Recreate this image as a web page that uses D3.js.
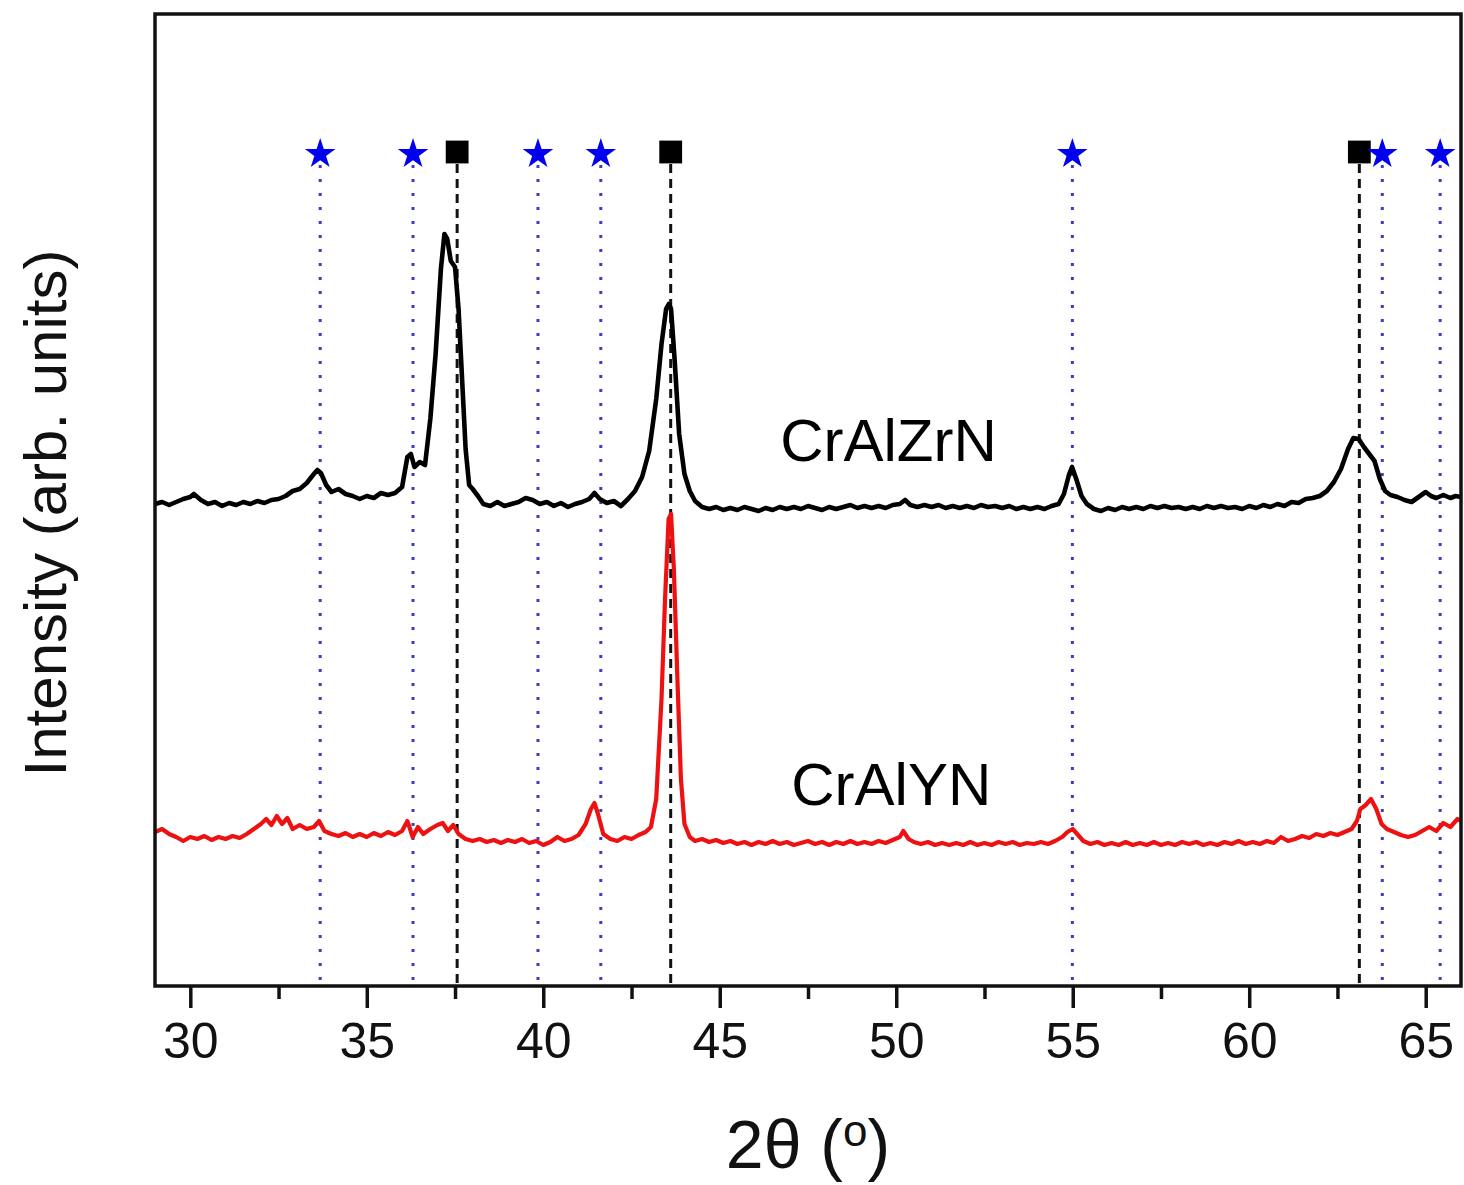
<!DOCTYPE html>
<html>
<head>
<meta charset="utf-8">
<script src="https://d3js.org/d3.v7.min.js"></script>
<style>
  body { margin: 0; background: #fff; }
  svg { display: block; font-family: "Liberation Sans", Arial, sans-serif; }
</style>
</head>
<body>
<svg id="chart" width="1464" height="1185"></svg>
<script>
// 2theta (deg), intensity (arb. units)
var crAlZrN = [
  [29.0,482],[29.2,484],[29.4,481],[29.6,484],[29.8,487],[30.0,489],[30.1,492],[30.3,486],[30.5,482],[30.7,484],
  [30.9,480],[31.1,483],[31.3,481],[31.5,484],[31.7,482],[31.9,485],[32.1,483],[32.3,486],[32.5,487],[32.7,490],
  [32.9,495],[33.1,497],[33.3,503],[33.5,512],[33.6,516],[33.7,513],[33.85,501],[34.0,494],[34.2,497],[34.4,492],
  [34.6,490],[34.8,487],[35.0,490],[35.2,488],[35.4,493],[35.6,491],[35.8,493],[36.0,499],[36.15,529],[36.25,532],
  [36.35,519],[36.5,524],[36.65,521],[36.8,567],[36.95,632],[37.1,717],[37.2,752],[37.28,747],[37.38,725],[37.5,719],
  [37.6,677],[37.7,607],[37.8,537],[37.9,501],[38.0,497],[38.15,490],[38.3,482],[38.5,480],[38.7,484],[38.9,480],
  [39.1,482],[39.3,484],[39.5,488],[39.7,486],[39.9,482],[40.1,484],[40.3,480],[40.5,483],[40.7,479],[40.9,482],
  [41.1,484],[41.3,487],[41.45,493],[41.6,487],[41.8,483],[42.0,485],[42.2,480],[42.4,487],[42.6,495],[42.8,509],
  [43.0,535],[43.2,587],[43.35,642],[43.48,677],[43.56,682],[43.62,677],[43.72,627],[43.85,552],[44.0,512],[44.15,495],
  [44.3,485],[44.5,479],[44.7,477],[44.9,479],[45.1,476],[45.3,478],[45.5,476],[45.7,479],[45.9,477],[46.1,475],
  [46.3,478],[46.5,476],[46.7,479],[46.9,477],[47.1,479],[47.3,477],[47.5,480],[47.7,478],[47.9,476],[48.1,479],
  [48.3,477],[48.5,479],[48.7,481],[48.9,478],[49.1,480],[49.3,478],[49.5,480],[49.7,478],[49.9,481],[50.1,482],
  [50.25,486],[50.4,481],[50.6,479],[50.8,481],[51.0,479],[51.2,481],[51.4,478],[51.6,480],[51.8,478],[52.0,480],
  [52.2,478],[52.4,481],[52.6,479],[52.8,480],[53.0,478],[53.2,480],[53.4,477],[53.6,479],[53.8,477],[54.0,479],
  [54.2,477],[54.4,480],[54.6,482],[54.75,492],[54.9,512],[54.98,519],[55.1,507],[55.25,490],[55.4,482],[55.6,477],
  [55.8,475],[56.0,478],[56.2,476],[56.4,479],[56.6,477],[56.8,479],[57.0,477],[57.2,480],[57.4,478],[57.6,480],
  [57.8,478],[58.0,479],[58.2,477],[58.4,479],[58.6,477],[58.8,480],[59.0,478],[59.2,480],[59.4,478],[59.6,479],
  [59.8,477],[60.0,480],[60.2,478],[60.4,481],[60.6,479],[60.8,482],[61.0,480],[61.2,484],[61.4,483],[61.6,487],
  [61.8,488],[62.0,490],[62.2,495],[62.4,504],[62.6,517],[62.8,537],[62.95,548],[63.1,547],[63.25,539],[63.4,532],
  [63.55,525],[63.7,507],[63.85,495],[64.0,491],[64.2,489],[64.4,486],[64.6,484],[64.8,489],[65.0,494],[65.15,490],
  [65.3,488],[65.5,491],[65.7,488],[65.85,490],[66.0,489]
];

var crAlYN = [
  [29.0,154],[29.2,157],[29.4,152],[29.6,149],[29.8,145],[30.0,149],[30.2,147],[30.4,150],[30.6,146],[30.8,149],
  [31.0,147],[31.2,150],[31.4,148],[31.6,152],[31.8,157],[32.0,162],[32.15,167],[32.3,161],[32.45,170],[32.6,162],
  [32.75,168],[32.9,157],[33.1,161],[33.3,157],[33.5,159],[33.65,165],[33.8,155],[34.0,152],[34.2,150],[34.4,153],
  [34.6,149],[34.8,152],[35.0,149],[35.2,153],[35.4,150],[35.6,154],[35.8,151],[36.0,155],[36.15,165],[36.3,149],
  [36.45,159],[36.6,152],[36.8,157],[37.0,161],[37.15,163],[37.3,155],[37.45,161],[37.6,152],[37.8,147],[38.0,145],
  [38.2,147],[38.4,144],[38.6,146],[38.8,143],[39.0,146],[39.2,144],[39.4,147],[39.6,143],[39.8,145],[40.0,141],
  [40.2,144],[40.4,149],[40.6,145],[40.8,147],[41.0,151],[41.2,162],[41.35,177],[41.45,183],[41.55,172],[41.7,152],
  [41.9,147],[42.1,145],[42.3,149],[42.5,147],[42.7,151],[42.9,154],[43.05,159],[43.2,187],[43.35,287],[43.45,387],
  [43.55,467],[43.62,472],[43.7,417],[43.8,307],[43.9,207],[44.0,162],[44.15,149],[44.3,145],[44.5,147],[44.7,144],
  [44.9,146],[45.1,143],[45.3,145],[45.5,142],[45.7,144],[45.9,141],[46.1,144],[46.3,142],[46.5,145],[46.7,142],
  [46.9,144],[47.1,141],[47.3,143],[47.5,145],[47.7,142],[47.9,144],[48.1,141],[48.3,144],[48.5,142],[48.7,145],
  [48.9,142],[49.1,144],[49.3,142],[49.5,145],[49.7,143],[49.9,146],[50.1,149],[50.2,155],[50.35,147],[50.5,144],
  [50.7,142],[50.9,144],[51.1,141],[51.3,143],[51.5,141],[51.7,143],[51.9,141],[52.1,144],[52.3,141],[52.5,143],
  [52.7,141],[52.9,144],[53.1,142],[53.3,144],[53.5,141],[53.7,143],[53.9,142],[54.1,144],[54.3,142],[54.5,145],
  [54.7,149],[54.85,154],[55.0,157],[55.15,151],[55.3,145],[55.5,142],[55.7,144],[55.9,141],[56.1,143],[56.3,141],
  [56.5,144],[56.7,141],[56.9,143],[57.1,141],[57.3,144],[57.5,141],[57.7,143],[57.9,141],[58.1,144],[58.3,142],
  [58.5,144],[58.7,141],[58.9,143],[59.1,141],[59.3,144],[59.5,142],[59.7,145],[59.9,142],[60.1,144],[60.3,142],
  [60.5,145],[60.7,143],[60.9,149],[61.1,145],[61.3,147],[61.5,150],[61.7,148],[61.9,152],[62.1,150],[62.3,153],
  [62.5,151],[62.7,154],[62.9,157],[63.05,165],[63.15,177],[63.3,181],[63.45,187],[63.6,177],[63.75,162],[63.9,157],
  [64.1,154],[64.3,151],[64.5,149],[64.7,151],[64.9,155],[65.1,159],[65.3,155],[65.5,163],[65.7,159],[65.9,167],
  [66.0,165]
];

// reference peak positions
var starPeaks = [33.68, 36.31, 39.85, 41.63, 54.99, 63.77, 65.41];
var squarePeaks = [37.56, 43.61, 63.12];
var xTicks = [30, 35, 40, 45, 50, 55, 60, 65];
var xMinorTicks = [32.5, 37.5, 42.5, 47.5, 52.5, 57.5, 62.5];

var plotLeft = 155, plotRight = 1461, plotTop = 14, plotBottom = 986;
var markerLevel = 834;   // intensity level of the phase markers

var svg = d3.select("#chart");

var x = d3.scaleLinear().domain([29, 66]).range([plotLeft, plotRight]);
var y = d3.scaleLinear().domain([0, 972]).range([plotBottom, plotTop]);

// clip for curves
svg.append("clipPath").attr("id", "clip")
  .append("rect").attr("x", plotLeft).attr("y", plotTop)
  .attr("width", plotRight - plotLeft).attr("height", plotBottom - plotTop);

// reference lines
svg.append("g").selectAll("line").data(starPeaks).join("line")
  .attr("x1", d => x(d)).attr("x2", d => x(d))
  .attr("y1", y(markerLevel) + 13).attr("y2", plotBottom)
  .attr("stroke", "#3d3dc4").attr("stroke-width", 3)
  .attr("stroke-dasharray", "3,11");

svg.append("g").selectAll("line").data(squarePeaks).join("line")
  .attr("x1", d => x(d)).attr("x2", d => x(d))
  .attr("y1", y(markerLevel) + 12).attr("y2", plotBottom)
  .attr("stroke", "#111").attr("stroke-width", 3)
  .attr("stroke-dasharray", "9,6");

// curves
var line = d3.line().x(d => x(d[0])).y(d => y(d[1]));

svg.append("path").datum(crAlYN)
  .attr("clip-path", "url(#clip)")
  .attr("fill", "none").attr("stroke", "#ee1111")
  .attr("stroke-width", 4.2).attr("stroke-linejoin", "round")
  .attr("d", line);

svg.append("path").datum(crAlZrN)
  .attr("clip-path", "url(#clip)")
  .attr("fill", "none").attr("stroke", "#000")
  .attr("stroke-width", 4.6).attr("stroke-linejoin", "round")
  .attr("d", line);

// markers
svg.append("g").selectAll("path").data(squarePeaks).join("path")
  .attr("transform", d => "translate(" + x(d) + "," + y(markerLevel) + ")")
  .attr("d", d3.symbol().type(d3.symbolSquare).size(520))
  .attr("fill", "#000");

svg.append("g").selectAll("path").data(starPeaks).join("path")
  .attr("transform", d => "translate(" + x(d) + "," + (y(markerLevel) + 2) + ")")
  .attr("d", d3.symbol().type(d3.symbolStar).size(290))
  .attr("fill", "#0000ee");

// sample labels
svg.append("text")
  .attr("x", x(49.78)).attr("y", y(525))
  .attr("text-anchor", "middle").attr("font-size", "60px")
  .text("CrAlZrN");

svg.append("text")
  .attr("x", x(49.86)).attr("y", y(181))
  .attr("text-anchor", "middle").attr("font-size", "60px")
  .text("CrAlYN");

// frame
svg.append("rect")
  .attr("x", plotLeft).attr("y", plotTop)
  .attr("width", plotRight - plotLeft).attr("height", plotBottom - plotTop)
  .attr("fill", "none").attr("stroke", "#111").attr("stroke-width", 3.5);

// x axis
var xAxis = d3.axisBottom(x).tickValues(xTicks).tickSize(22).tickPadding(14)
  .tickFormat(d3.format("d"));
var gx = svg.append("g").attr("transform", "translate(0," + plotBottom + ")").call(xAxis);
gx.select(".domain").remove();
gx.selectAll(".tick line").attr("stroke", "#111").attr("stroke-width", 3.5);
gx.selectAll(".tick text").attr("font-size", "50px").attr("fill", "#111")
  .attr("font-family", "Liberation Sans, Arial, sans-serif");

var gm = svg.append("g").attr("transform", "translate(0," + plotBottom + ")")
  .call(d3.axisBottom(x).tickValues(xMinorTicks).tickSize(13).tickFormat(""));
gm.select(".domain").remove();
gm.selectAll(".tick line").attr("stroke", "#111").attr("stroke-width", 3.5);

// axis titles
var xt = svg.append("text")
  .attr("x", 808).attr("y", 1168)
  .attr("text-anchor", "middle").attr("font-size", "68px").attr("fill", "#111");
xt.append("tspan").text("2θ (");
xt.append("tspan").attr("font-size", "44px").attr("dy", -22).text("o");
xt.append("tspan").attr("dy", 22).text(")");

svg.append("text")
  .attr("transform", "translate(66,513) rotate(-90)")
  .attr("text-anchor", "middle").attr("font-size", "60px").attr("fill", "#111")
  .text("Intensity (arb. units)");
</script>
</body>
</html>
